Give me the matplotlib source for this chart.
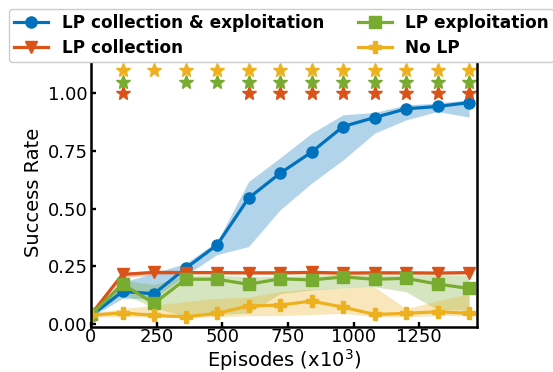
import matplotlib
matplotlib.use("Agg")
import matplotlib.pyplot as plt

episodes = [0, 120, 240, 360, 480, 600, 720, 840, 960, 1080, 1200, 1320, 1440]

labels = ["LP collection & exploitation", "LP collection", "LP exploitation", "No LP"]
colors = ["#0072BD", "#D95319", "#77AC30", "#EDB120"]
markers = ["o", "v", "s", "P"]

both_mean = [0.035, 0.14, 0.13, 0.24, 0.342, 0.545, 0.653, 0.745, 0.856, 0.895, 0.933, 0.943, 0.96]
both_low = [0.03, 0.11, 0.11, 0.21, 0.30, 0.335, 0.494, 0.61, 0.711, 0.827, 0.885, 0.921, 0.897]
both_high = [0.04, 0.18, 0.22, 0.262, 0.356, 0.617, 0.72, 0.827, 0.907, 0.917, 0.95, 0.958, 0.972]

coll_mean = [0.04, 0.214, 0.223, 0.222, 0.222, 0.221, 0.221, 0.223, 0.22, 0.221, 0.221, 0.22, 0.222]
coll_low = [0.035, 0.20, 0.212, 0.214, 0.214, 0.213, 0.213, 0.215, 0.212, 0.213, 0.213, 0.212, 0.214]
coll_high = [0.045, 0.222, 0.229, 0.228, 0.228, 0.227, 0.227, 0.229, 0.226, 0.227, 0.227, 0.226, 0.228]

expl_mean = [0.04, 0.172, 0.088, 0.193, 0.193, 0.171, 0.195, 0.19, 0.203, 0.193, 0.197, 0.172, 0.153]
expl_low = [0.03, 0.13, 0.07, 0.03, 0.04, 0.046, 0.13, 0.146, 0.155, 0.16, 0.139, 0.06, 0.06]
expl_high = [0.05, 0.19, 0.17, 0.21, 0.21, 0.205, 0.205, 0.21, 0.215, 0.21, 0.21, 0.21, 0.21]

nolp_mean = [0.037, 0.047, 0.036, 0.03, 0.045, 0.077, 0.081, 0.098, 0.072, 0.04, 0.045, 0.052, 0.045]
nolp_low = [0.03, 0.03, 0.03, 0.025, 0.03, 0.035, 0.035, 0.04, 0.045, 0.03, 0.03, 0.035, 0.035]
nolp_high = [0.045, 0.066, 0.08, 0.096, 0.11, 0.115, 0.14, 0.15, 0.155, 0.16, 0.065, 0.10, 0.13]

means = [both_mean, coll_mean, expl_mean, nolp_mean]
lows = [both_low, coll_low, expl_low, nolp_low]
highs = [both_high, coll_high, expl_high, nolp_high]

# significance stars (episodes where difference is significant)
star_coll_x = [120, 600, 720, 840, 960, 1080, 1200, 1320, 1440]
star_expl_x = [120, 360, 480, 600, 720, 840, 960, 1080, 1200, 1320, 1440]
star_nolp_x = [120, 240, 360, 480, 600, 720, 840, 960, 1080, 1200, 1320, 1440]
star_levels = [1.0, 1.05, 1.1]

fig = plt.figure(figsize=(5.53, 3.72), dpi=100)
ax = fig.add_axes([91 / 553, 1 - 326.7 / 372, (477 - 91) / 553, (326.7 - 58.8) / 372])

for m, lo, hi, c in zip(means, lows, highs, colors):
    ax.fill_between(episodes, lo, hi, color=c, alpha=0.3, linewidth=0)

handles = []
for m, c, mk, lab in zip(means, colors, markers, labels):
    h, = ax.plot(episodes, m, color=c, marker=mk, markersize=8, linewidth=2.3, label=lab)
    handles.append(h)

for xs, lvl, c in zip([star_coll_x, star_expl_x, star_nolp_x], star_levels, colors[1:]):
    ax.plot(xs, [lvl] * len(xs), linestyle="none", marker="*", markersize=10.5, color=c)

ax.set_xlim(0, 1470)
ax.set_ylim(-0.013, 1.15)
ax.set_xticks([0, 250, 500, 750, 1000, 1250])
ax.set_yticks([0.0, 0.25, 0.5, 0.75, 1.0])
ax.set_yticklabels(["0.00", "0.25", "0.50", "0.75", "1.00"])
ax.tick_params(labelsize=13, width=1.7, length=3.5, direction="in")
ax.tick_params(axis="x", pad=1)
ax.tick_params(axis="y", pad=2.5)
for s in ax.spines.values():
    s.set_linewidth(1.8)
ax.set_xlabel("Episodes (x10$^3$)", fontsize=14, labelpad=1)
ax.set_ylabel("Success Rate", fontsize=14, labelpad=3)

fig.legend(handles=handles, ncol=2, loc="upper left",
           bbox_to_anchor=(9 / 553, 1 - 9 / 372),
           prop={"weight": "bold", "size": 12.2},
           borderaxespad=0, borderpad=0.3, handletextpad=0.8, columnspacing=2.0,
           labelspacing=0.42, framealpha=1)

fig.savefig("out.png", dpi=100)
